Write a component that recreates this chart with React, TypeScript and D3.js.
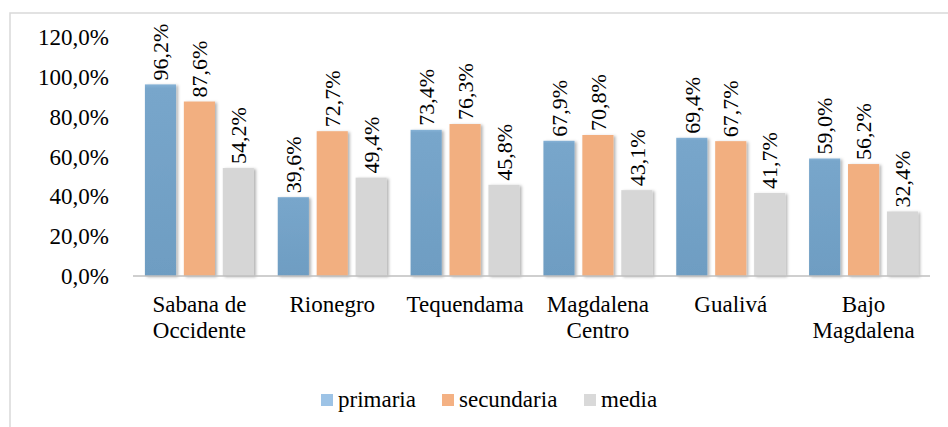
import React from "react";
import * as d3 from "d3";

const categories: string[][] = [
  ["Sabana de", "Occidente"],
  ["Rionegro"],
  ["Tequendama"],
  ["Magdalena", "Centro"],
  ["Gualivá"],
  ["Bajo", "Magdalena"],
];
const seriesNames = ["primaria", "secundaria", "media"];
const primaria = [96.2, 39.6, 73.4, 67.9, 69.4, 59.0];
const secundaria = [87.6, 72.7, 76.3, 70.8, 67.7, 56.2];
const media = [54.2, 49.4, 45.8, 43.1, 41.7, 32.4];
const yTicks = [0, 20, 40, 60, 80, 100, 120];

const W = 948;
const H = 427;
const FONT = "Liberation Serif, Times New Roman, Times, serif";

const fmt = (v: number) => v.toFixed(1).replace(".", ",") + "%";

export default function App() {
  const series = [primaria, secundaria, media];
  const barFills = ["url(#gBlue)", "#F2AF80", "#D6D6D6"];
  const legendFills = ["#9DC3E6", "#F4B183", "#D9D9D9"];

  const x0 = d3
    .scaleBand<number>()
    .domain(d3.range(categories.length))
    .range([133, 930])
    .paddingInner(0)
    .paddingOuter(0);
  const step = x0.bandwidth();
  const x1 = d3
    .scaleBand<number>()
    .domain([0, 1, 2])
    .range([step / 2 - 54.5, step / 2 + 54.5])
    .paddingInner(0.2)
    .paddingOuter(0);
  const y = d3.scaleLinear().domain([0, 120]).range([276, 37]);

  const legendX = [321, 442, 584];
  const ts: React.CSSProperties = { fontFamily: FONT, fontSize: "23px" };
  const tv: React.CSSProperties = { fontFamily: FONT, fontSize: "22px" };

  return (
    <svg
      width={W}
      height={H}
      style={{ position: "absolute", left: 0, top: 0, background: "#fff", fontFamily: FONT }}
    >
      <defs>
        <linearGradient id="gBlue" x1="0" y1="0" x2="0" y2="1">
          <stop offset="0" stopColor="#86B2D6" />
          <stop offset="0.02" stopColor="#78A6CB" />
          <stop offset="1" stopColor="#6E9DC2" />
        </linearGradient>
        <filter id="shadow" x="-20%" y="-10%" width="150%" height="120%">
          <feDropShadow dx="2" dy="1" stdDeviation="1.5" floodColor="#000" floodOpacity="0.3" />
        </filter>
      </defs>
      <rect x={10} y={13} width={W + 20} height={H + 20} fill="#fff" stroke="#D9D9D9" strokeWidth={1.5} />

      {yTicks.map((t) => (
        <text key={t} x={109} y={y(t)} dy="0.35em" textAnchor="end" style={ts} fill="#000">
          {fmt(t)}
        </text>
      ))}

      {categories.map((cat, ci) => (
        <g key={ci} transform={`translate(${x0(ci)},0)`}>
          {series.map((s, si) => {
            const bx = x1(si)!;
            const bw = x1.bandwidth();
            const top = y(s[ci]);
            return (
              <g key={si}>
                <rect
                  x={bx}
                  y={top}
                  width={bw}
                  height={y(0) - top}
                  fill={barFills[si]}
                  filter="url(#shadow)"
                />
                <text
                  transform={`translate(${bx + bw / 2},${top - 4}) rotate(-90)`}
                  dy="0.35em"
                  style={tv}
                  fill="#000"
                >
                  {fmt(s[ci])}
                </text>
              </g>
            );
          })}
          {cat.map((line, li) => (
            <text key={li} x={step / 2} y={312 + li * 25.5} textAnchor="middle" style={ts} fill="#000">
              {line}
            </text>
          ))}
        </g>
      ))}

      <line x1={133} x2={930} y1={y(0)} y2={y(0)} stroke="#BFBFBF" strokeWidth={1.5} />

      {seriesNames.map((n, i) => (
        <g key={n}>
          <rect x={legendX[i]} y={394} width={12} height={12} fill={legendFills[i]} />
          <text x={legendX[i] + 17} y={406.5} style={ts} fill="#000">
            {n}
          </text>
        </g>
      ))}
    </svg>
  );
}
